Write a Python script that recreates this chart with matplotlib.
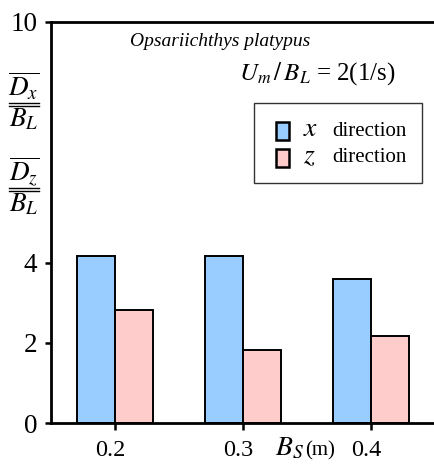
import matplotlib
matplotlib.use("Agg")
import matplotlib.pyplot as plt
import matplotlib.transforms as mtransforms
from matplotlib.lines import Line2D
from matplotlib.patches import Rectangle
import numpy as np

# Spacing between fish shelters B_S (m) and mean displacement ratios
spacing = [0.2, 0.3, 0.4]
dx_ratio = [4.17, 4.17, 3.59]
dz_ratio = [2.82, 1.82, 2.17]
tick_labels = ["0.2", "0.3", "0.4"]
y_ticks = [0, 2, 4, 10]
species = "Opsariichthys platypus"

blue = "#99CCFF"
pink = "#FFCCCC"

plt.rcParams["font.family"] = ["Liberation Serif", "DejaVu Serif"]
plt.rcParams["mathtext.fontset"] = "stix"

W, H = 434, 466
fig = plt.figure(figsize=(W / 100, H / 100), dpi=100)
ax = fig.add_axes([51 / W, 1 - 423.3 / H, 384 / W, (423.3 - 21.7) / H])

bw = 0.03
x = np.array(spacing)
ax.bar(x - bw / 2, dx_ratio, width=bw, color=blue, edgecolor="black", linewidth=1.4, zorder=2)
ax.bar(x + bw / 2, dz_ratio, width=bw, color=pink, edgecolor="black", linewidth=1.4, zorder=2)

ax.set_xlim(0.15, 0.45)
ax.set_ylim(0, 10)
ax.set_xticks(spacing)
ax.set_xticklabels(tick_labels, fontsize=17.5)
ax.set_yticks(y_ticks)
ax.set_yticklabels([str(v) for v in y_ticks], fontsize=19.5)
ax.tick_params(axis="x", direction="out", length=5, width=1.8, pad=7)
ax.tick_params(axis="y", direction="out", length=4, width=1.8, pad=6)
for lab in ax.get_xticklabels():
    lab.set_transform(lab.get_transform() + mtransforms.ScaledTranslation(-5 / 100, 0, fig.dpi_scale_trans))

for side in ("left", "bottom", "top"):
    ax.spines[side].set_linewidth(2.0)
ax.spines["right"].set_visible(False)

# Axis title for B_S
fig.text(275 / W, 1 - 449 / H, r"$B_S$", fontsize=20, ha="left", va="center")
fig.text(305 / W, 1 - 451 / H, "(m)", fontsize=15, ha="left", va="center")

# Stacked y-axis labels: overlined D over B_L with double fraction bars
def frac_label(sym, ytop):
    fig.text(24 / W, 1 - (ytop + 14) / H, r"$\overline{D_%s}$" % sym, fontsize=19.5,
             ha="center", va="center")
    for dy in (30.5, 33.5):
        fig.add_artist(Line2D([9 / W, 39 / W], [1 - (ytop + dy) / H] * 2,
                              color="black", linewidth=1.0, transform=fig.transFigure))
    fig.text(24 / W, 1 - (ytop + 48) / H, r"$B_L$", fontsize=19.5, ha="center", va="center")

frac_label("x", 72)
frac_label("z", 157)

# Annotations inside the plot
fig.text(220 / W, 1 - 42 / H, species, fontsize=14, style="italic", ha="center", va="center")
fig.text(317 / W, 1 - 74 / H, r"$U_m\,/\,B_L$ = 2(1/s)", fontsize=18, ha="center", va="center")

# Legend box
fig.add_artist(Rectangle((254 / W, 1 - 183.3 / H), (421.7 - 254) / W, (183.3 - 102.7) / H,
                         transform=fig.transFigure, facecolor="white", edgecolor="#333333",
                         linewidth=1.0, zorder=5))
for yc, col, sym in ((131, blue, "x"), (158, pink, "z")):
    fig.add_artist(Rectangle((276 / W, 1 - (yc + 9) / H), 13 / W, 18 / H,
                             transform=fig.transFigure, facecolor=col, edgecolor="black",
                             linewidth=1.8, zorder=6))
    fig.text(303 / W, 1 - (yc - 1) / H, r"$%s$" % sym, fontsize=20, ha="left", va="center", zorder=7)
    fig.text(332 / W, 1 - yc / H, "direction", fontsize=15, ha="left", va="center", zorder=7)

fig.savefig("out.png", dpi=100)
